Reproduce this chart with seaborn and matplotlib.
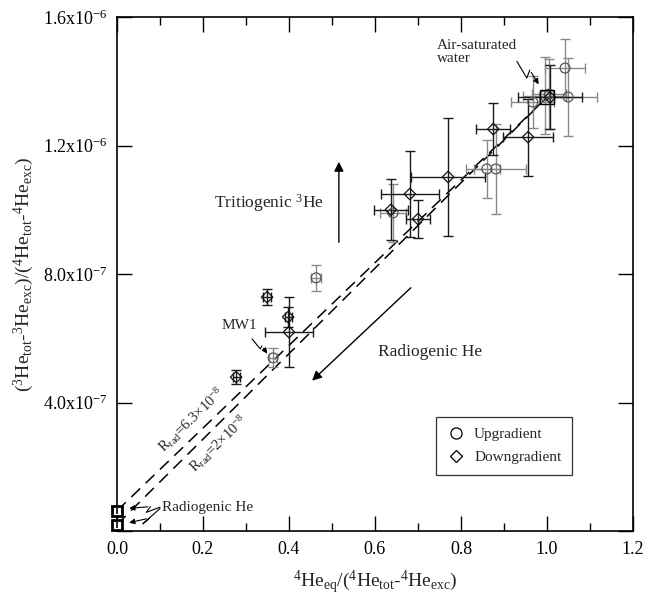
import numpy as np
import pandas as pd
import matplotlib
matplotlib.use("Agg")
import matplotlib.pyplot as plt
import seaborn as sns
from matplotlib.ticker import MultipleLocator, FixedLocator
from matplotlib.lines import Line2D

# ---------------- data ----------------
up_x = [0.463, 0.363, 0.642, 0.860, 0.881, 0.967, 0.995, 1.005, 1.049, 1.042]
up_y = [7.88e-7, 5.39e-7, 9.90e-7, 1.127e-6, 1.127e-6, 1.335e-6, 1.355e-6, 1.360e-6, 1.351e-6, 1.441e-6]
up_xerr = [0.012, 0.010, 0.030, 0.030, 0.070, 0.050, 0.050, 0.040, 0.067, 0.046]
up_yerr = [4.0e-8, 3.0e-8, 9.0e-8, 9.0e-8, 1.4e-7, 8.0e-8, 1.2e-7, 1.1e-7, 1.2e-7, 9.0e-8]

down_x = [0.277, 0.349, 0.398, 0.400, 0.637, 0.681, 0.700, 0.770, 0.875, 0.956, 1.007]
down_y = [4.79e-7, 7.28e-7, 6.66e-7, 6.19e-7, 1.000e-6, 1.049e-6, 9.71e-7, 1.102e-6, 1.251e-6, 1.226e-6, 1.350e-6]
down_xerr = [0.008, 0.010, 0.008, 0.055, 0.040, 0.068, 0.028, 0.086, 0.040, 0.058, 0.075]
down_yerr = [2.2e-8, 2.6e-8, 3.0e-8, 1.1e-7, 9.5e-8, 1.35e-7, 6.0e-8, 1.84e-7, 8.0e-8, 1.2e-7, 1.0e-7]

groups = ["Upgradient", "Downgradient"]

asw_x = 1.0          # air-saturated water
asw_y = 1.35e-6
rrad_values = [6.3e-8, 2e-8]
rrad_labels = [r"R$_{\rm rad}$=6.3$\times$10$^{-8}$", r"R$_{\rm rad}$=2$\times$10$^{-8}$"]

x_ticks = [0.0, 0.2, 0.4, 0.6, 0.8, 1.0, 1.2]
y_ticks = [0.0, 4e-7, 8e-7, 1.2e-6, 1.6e-6]
y_tick_labels = ["", r"4.0x10$^{-7}$", r"8.0x10$^{-7}$", r"1.2x10$^{-6}$", r"1.6x10$^{-6}$"]

# ---------------- style ----------------
sns.set_style("ticks")
plt.rcParams["font.family"] = ["Liberation Serif", "DejaVu Serif"]
plt.rcParams["mathtext.fontset"] = "custom"
plt.rcParams["mathtext.rm"] = "Liberation Serif"
plt.rcParams["mathtext.it"] = "Liberation Serif:italic"
plt.rcParams["mathtext.default"] = "regular"

fig = plt.figure(figsize=(6.46, 5.97), dpi=100)
ax = fig.add_axes([117 / 646, 66 / 597, 516 / 646, 514 / 597])

df = pd.concat([
    pd.DataFrame({"x": up_x, "y": up_y, "xerr": up_xerr, "yerr": up_yerr, "group": groups[0]}),
    pd.DataFrame({"x": down_x, "y": down_y, "xerr": down_xerr, "yerr": down_yerr, "group": groups[1]}),
], ignore_index=True)

# mixing lines
line_rows = []
for i, r in enumerate(rrad_values):
    line_rows.append({"x": 0.0, "y": r, "line": str(i)})
    line_rows.append({"x": asw_x, "y": asw_y, "line": str(i)})
ldf = pd.DataFrame(line_rows)
sns.lineplot(data=ldf, x="x", y="y", units="line", estimator=None, color="black",
             lw=1.1, ax=ax, legend=False, dashes=False)
for ln in ax.lines:
    ln.set_dashes((8, 5))

# error bars
bar_col = {"Upgradient": "#8a8a8a", "Downgradient": "#1a1a1a"}
for g in groups:
    sub = df[df.group == g]
    ax.errorbar(sub.x, sub.y, xerr=sub.xerr, yerr=sub.yerr, fmt="none",
                ecolor=bar_col[g], elinewidth=1.0, capsize=3.5, capthick=1.0, zorder=2)

# markers
sns.scatterplot(data=df, x="x", y="y", style="group", size="group",
                markers={"Upgradient": "o", "Downgradient": "D"},
                sizes={"Upgradient": 50, "Downgradient": 34},
                ax=ax, legend=False, zorder=3)
coll = ax.collections[-1]
coll.set_facecolor("none")
coll.set_edgecolor(["#555555" if g == "Upgradient" else "#111111" for g in df.group])
coll.set_linewidth(0.9)

# ASW box and radiogenic end-members
ax.plot([asw_x], [asw_y], marker="s", ms=10, mfc="none", mec="black", mew=1.0, zorder=4)
ax.plot([0.0] * len(rrad_values), rrad_values, ls="none", marker="s", ms=7, mfc="white",
        mec="black", mew=2.0, zorder=5, clip_on=False)
ax.plot([0.0] * len(rrad_values), rrad_values, ls="none", marker="|", ms=5, mec="black",
        mew=1.2, zorder=6, clip_on=False)

# axes
ax.set_xlim(0, 1.2)
ax.set_ylim(0, 1.6e-6)
ax.xaxis.set_major_locator(FixedLocator(x_ticks))
ax.xaxis.set_minor_locator(MultipleLocator(0.1))
ax.set_xticklabels([f"{t:.1f}" for t in x_ticks])
ax.yaxis.set_major_locator(FixedLocator(y_ticks))
ax.set_yticklabels(y_tick_labels)
ax.tick_params(which="both", direction="in", top=True, right=True, width=1.0, colors="black")
ax.tick_params(which="major", length=11, labelsize=13, pad=7)
ax.tick_params(which="minor", length=6)
for s in ax.spines.values():
    s.set_linewidth(1.2)
    s.set_color("black")

ax.set_xlabel(r"$^{4}$He$_{\rm eq}$/($^{4}$He$_{\rm tot}$-$^{4}$He$_{\rm exc}$)", fontsize=14, labelpad=8)
ax.set_ylabel(r"($^{3}$He$_{\rm tot}$-$^{3}$He$_{\rm exc}$)/($^{4}$He$_{\rm tot}$-$^{4}$He$_{\rm exc}$)",
              fontsize=14, labelpad=5)

# legend
handles = [Line2D([], [], ls="none", marker="o", ms=8, mfc="none", mec="black", mew=0.9),
           Line2D([], [], ls="none", marker="D", ms=6, mfc="none", mec="black", mew=0.9)]
leg = ax.legend(handles, groups, loc="upper left", bbox_to_anchor=(0.618, 0.222),
                borderaxespad=0, fontsize=11, frameon=True, fancybox=False,
                handletextpad=0.6, borderpad=0.7, labelspacing=0.6, handlelength=1.2)
leg.get_frame().set_edgecolor("black")
leg.get_frame().set_linewidth(0.9)

# annotations
def zigzag(pts, head):
    xs = [p[0] for p in pts]
    ys = [p[1] for p in pts]
    ax.plot(xs, ys, color="black", lw=0.8, zorder=6, clip_on=False)
    ax.annotate("", xy=head, xytext=pts[-1],
                arrowprops=dict(arrowstyle="-|>", color="black", lw=0.8, mutation_scale=8),
                zorder=6)

ax.text(0.744, 1.49e-6, "Air-saturated\nwater", fontsize=11, ha="left", va="center",
        linespacing=1.0)
zigzag([(0.93, 1.462e-6), (0.953, 1.41e-6), (0.96, 1.435e-6)], (0.984, 1.383e-6))

ax.text(0.244, 0.641e-6, "MW1", fontsize=11, ha="left", va="center")
zigzag([(0.314, 0.598e-6), (0.333, 0.567e-6), (0.337, 0.576e-6)], (0.353, 0.545e-6))

ax.text(0.105, 0.072e-6, "Radiogenic He", fontsize=11, ha="left", va="center")
zigzag([(0.10, 0.074e-6), (0.068, 0.058e-6), (0.078, 0.076e-6)], (0.022, 0.070e-6))
zigzag([(0.10, 0.070e-6), (0.060, 0.022e-6), (0.075, 0.040e-6)], (0.022, 0.024e-6))

ax.text(0.226, 1.021e-6, r"Tritiogenic $^{3}$He", fontsize=12.5, ha="left", va="center")
ax.annotate("", xy=(0.516, 1.158e-6), xytext=(0.516, 0.89e-6),
            arrowprops=dict(arrowstyle="-|>", color="black", lw=1.0, mutation_scale=14))

ax.text(0.607, 0.557e-6, "Radiogenic He", fontsize=12.5, ha="left", va="center")
ax.annotate("", xy=(0.449, 0.462e-6), xytext=(0.688, 0.763e-6),
            arrowprops=dict(arrowstyle="-|>", color="black", lw=1.0, mutation_scale=14))

ax.text(0.174, 0.346e-6, rrad_labels[0], fontsize=10.5, rotation=44, ha="center", va="center",
        rotation_mode="anchor")
ax.text(0.235, 0.271e-6, rrad_labels[1], fontsize=10.5, rotation=44, ha="center", va="center",
        rotation_mode="anchor")

fig.savefig("out.png", dpi=100)
